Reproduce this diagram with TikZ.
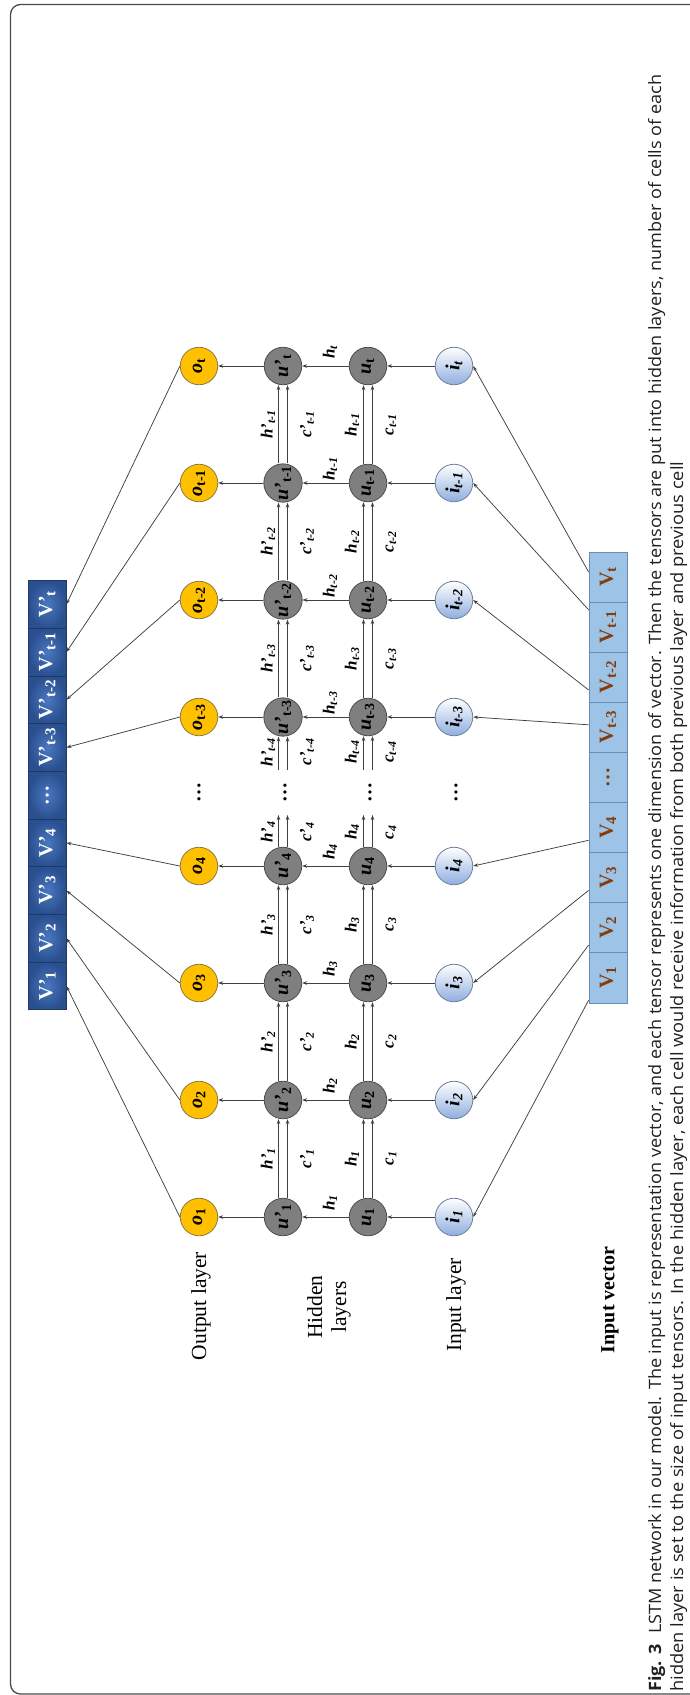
\documentclass[tikz,border=0pt]{standalone}
\usepackage{fontspec}
\setmainfont{Liberation Serif}
\newfontfamily\capfont{Open Sans}
\usetikzlibrary{arrows.meta,calc}

\definecolor{ogold}{HTML}{FFC000}
\definecolor{oedge}{HTML}{8A7A45}
\definecolor{ufill}{HTML}{7F7F7F}
\definecolor{uedge}{HTML}{4D4D4D}
\definecolor{iblue}{HTML}{8FAEDF}
\definecolor{iedge}{HTML}{6F7F99}
\definecolor{vpdark}{HTML}{2A4F8F}
\definecolor{vplite}{HTML}{4A78C0}
\definecolor{vpedge}{HTML}{1F3864}
\definecolor{vlight}{HTML}{9DC3E6}
\definecolor{vedge}{HTML}{6A8CB0}
\definecolor{vtext}{HTML}{843C0C}
\definecolor{wire}{HTML}{404040}
\definecolor{framec}{HTML}{4A4A4A}
\definecolor{captext}{HTML}{231F20}

% lowered index used inside the vector cells
\newcommand{\vsub}[1]{\raisebox{-0.35ex}{\fontsize{15}{15}\selectfont #1}}

\begin{document}
\begin{tikzpicture}[x=1pt,y=-1pt,
  cellnode/.style={circle, minimum size=37.5pt, inner sep=0pt, rotate=90, line width=0.8pt,
    font=\fontsize{20}{22}\selectfont\bfseries\itshape},
  onode/.style={cellnode, fill=ogold, draw=oedge},
  unode/.style={cellnode, fill=ufill, draw=uedge},
  inode/.style={cellnode, top color=white, bottom color=iblue, draw=iedge},
  lbl/.style={rotate=90, inner sep=0pt, font=\fontsize{17}{19}\selectfont\bfseries\itshape},
  layerlbl/.style={rotate=90, align=center, inner sep=0pt, font=\fontsize{21.5}{24}\selectfont},
  dotlbl/.style={rotate=90, inner sep=0pt, font=\fontsize{20}{22}\selectfont\bfseries},
  arr/.style={draw=wire, line width=0.9pt, -{Stealth[length=5pt,width=3.6pt]}},
  feed/.style={draw=wire, line width=0.75pt, -{Stealth[length=5pt,width=3.4pt]}},
  vpcell/.style={rotate=90, minimum width=47.7pt, minimum height=37.5pt, inner sep=0pt,
    draw=vpedge, line width=0.8pt, inner color=vplite, outer color=vpdark, text=white,
    font=\fontsize{20}{22}\selectfont\bfseries},
  vcell/.style={rotate=90, minimum width=50.1pt, minimum height=38pt, inner sep=0pt,
    draw=vedge, line width=0.8pt, fill=vlight, text=vtext,
    font=\fontsize{20}{22}\selectfont\bfseries},
  captionline/.style={rotate=90, anchor=base west, inner sep=0pt, text=captext,
    font=\capfont\fontsize{17}{20}\selectfont}]

\useasboundingbox (0,0) rectangle (689,1695);

% outer frame
\draw[framec, line width=1.3pt, rounded corners=10pt] (700,4.5) -- (10.5,4.5) -- (10.5,1694) -- (700,1694);

% output vector (top of the layers)
\foreach \n/\s/\y in {d/t/604.35, c/{t-1}/652.05, b/{t-2}/699.75, a/{t-3}/747.45,
                      4/4/842.85, 3/3/890.55, 2/2/938.25, 1/1/985.95}
  \node[vpcell] (vp\n) at (47.25,\y) {V'\vsub{\s}};
\node[vpcell] (vpdots) at (47.25,795.15) {…};

% input vector
\foreach \n/\s/\y in {d/t/577.05, c/{t-1}/627.15, b/{t-2}/677.25, a/{t-3}/727.35,
                      4/4/827.55, 3/3/877.65, 2/2/927.75, 1/1/977.85}
  \node[vcell] (v\n) at (608,\y) {V\vsub{\s}};
\node[vcell] (vdots) at (608,777.45) {…};

% cells of the four layers
\foreach \n/\s/\y in {1/1/1217, 2/2/1100, 3/3/983, 4/4/866,
                      a/{t-3}/717, b/{t-2}/600, c/{t-1}/483, d/t/366} {
  \node[onode] (o\n)  at (199,\y) {o\textsubscript{\textup{\s}}};
  \node[unode] (up\n) at (283,\y) {u'\textsubscript{\textup{\s}}};
  \node[unode] (u\n)  at (368,\y) {u\textsubscript{\textup{\s}}};
  \node[inode] (i\n)  at (454,\y) {i\textsubscript{\s}};
  \draw[arr] (i\n) -- (u\n);
  \draw[arr] (u\n) -- (up\n);
  \draw[arr] (up\n) -- (o\n);
  \node[lbl] (hh\n) at (330,\y-14) {h\textsubscript{\s}};
}

% recurrent connections (h and c) along each hidden layer
\foreach \a/\b in {1/2, 2/3, 3/4, a/b, b/c, c/d} {
  \draw[arr] ([xshift=-4.5pt]up\a.east) -- ([xshift=-4.5pt]up\b.west);
  \draw[arr] ([xshift=4.5pt]up\a.east)  -- ([xshift=4.5pt]up\b.west);
  \draw[arr] ([xshift=-4.5pt]u\a.east)  -- ([xshift=-4.5pt]u\b.west);
  \draw[arr] ([xshift=4.5pt]u\a.east)   -- ([xshift=4.5pt]u\b.west);
}

% open ends around the elided steps
\coordinate (ohpu) at (278.5,815); \coordinate (ocpu) at (287.5,815);
\coordinate (ohu)  at (363.5,815); \coordinate (ocu)  at (372.5,815);
\coordinate (ihpu) at (278.5,770); \coordinate (icpu) at (287.5,770);
\coordinate (ihu)  at (363.5,770); \coordinate (icu)  at (372.5,770);
\draw[arr] ([xshift=-4.5pt]up4.east) -- (ohpu);
\draw[arr] ([xshift=4.5pt]up4.east)  -- (ocpu);
\draw[arr] ([xshift=-4.5pt]u4.east)  -- (ohu);
\draw[arr] ([xshift=4.5pt]u4.east)   -- (ocu);
\draw[arr] (ihpu) -- ([xshift=-4.5pt]upa.west);
\draw[arr] (icpu) -- ([xshift=4.5pt]upa.west);
\draw[arr] (ihu)  -- ([xshift=-4.5pt]ua.west);
\draw[arr] (icu)  -- ([xshift=4.5pt]ua.west);

% labels of the recurrent connections
\foreach \k/\s/\m in {1/1/1158.5, 2/2/1041.5, 3/3/924.5, 4/4/832,
                      5/{t-4}/752, 6/{t-3}/658.5, 7/{t-2}/541.5, 8/{t-1}/424.5} {
  \node[lbl] (hp\k) at (268,\m) {h'\textsubscript{\s}};
  \node[lbl] (cp\k) at (307,\m) {c'\textsubscript{\s}};
  \node[lbl] (h\k)  at (352,\m) {h\textsubscript{\s}};
  \node[lbl] (c\k)  at (391,\m) {c\textsubscript{\s}};
}

% elided cells
\node[dotlbl] (dto) at (199,792) {…};
\node[dotlbl] (dtp) at (285,792) {…};
\node[dotlbl] (dtu) at (370,792) {…};
\node[dotlbl] (dti) at (456,792) {…};

% output layer to output vector
\foreach \n in {1,2,3,4,a,b,c,d}
  \draw[feed] (o\n.north) -- (vp\n.south);

% input vector to input layer
\draw[feed] ($(v1.north west)!0.06!(v1.north east)$) -- (i1.south);
\draw[feed] ($(v2.north west)!0.16!(v2.north east)$) -- (i2.south);
\draw[feed] ($(v3.north west)!0.25!(v3.north east)$) -- (i3.south);
\draw[feed] ($(v4.north west)!0.25!(v4.north east)$) -- (i4.south);
\draw[feed] ($(va.north west)!0.55!(va.north east)$) -- (ia.south);
\draw[feed] ($(vb.north west)!0.25!(vb.north east)$) -- (ib.south);
\draw[feed] ($(vc.north west)!0.84!(vc.north east)$) -- (ic.south);
\draw[feed] ($(vd.north west)!0.60!(vd.north east)$) -- (id.south);

% layer names
\node[layerlbl] (lout) at (201,1306) {Output layer};
\node[layerlbl] (lhid) at (329,1307) {Hidden\\layers};
\node[layerlbl] (linp) at (456,1305) {Input layer};
\node[layerlbl, font=\fontsize{20}{24}\selectfont\bfseries] (lvec) at (610,1300) {Input vector};

% caption
\node[captionline] (cap1) at (661,1692)
  {\resizebox{1617pt}{\height}{\textbf{Fig. 3}\hspace{0.6em}LSTM network in our model. The input is representation vector, and each tensor represents one dimension of vector. Then the tensors are put into hidden layers, number of cells of each}};
\node[captionline] (cap2) at (683,1692)
  {\resizebox{1230pt}{\height}{hidden layer is set to the size of input tensors. In the hidden layer, each cell would receive information from both previous layer and previous cell}};
\end{tikzpicture}
\end{document}
